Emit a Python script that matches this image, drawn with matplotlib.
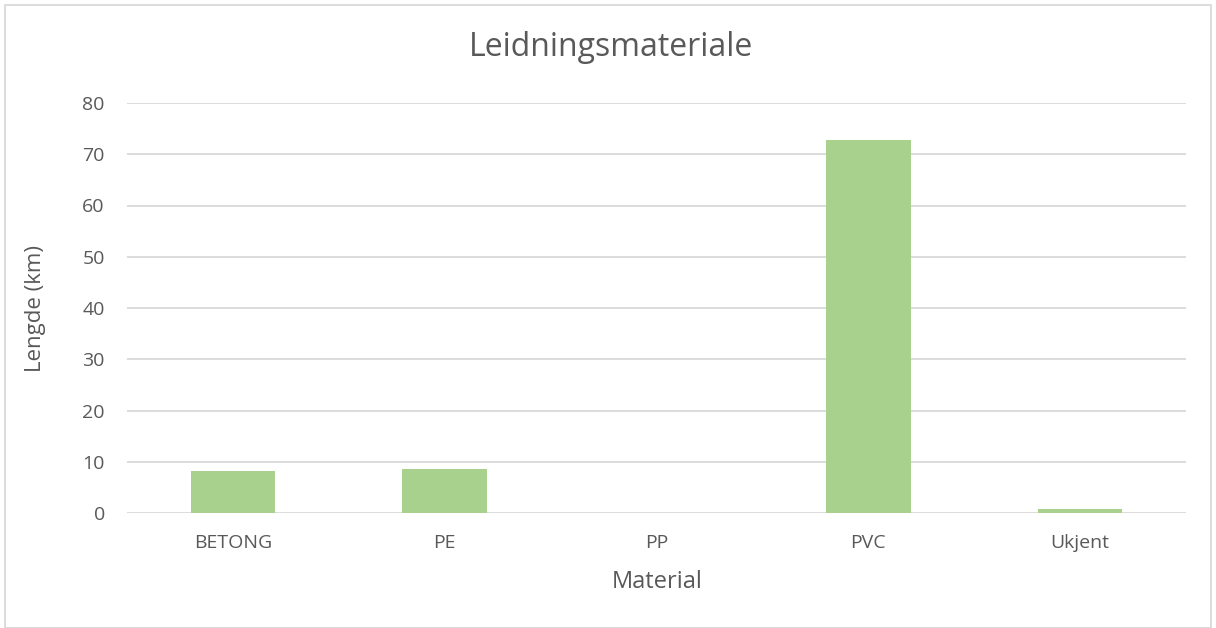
import matplotlib
matplotlib.use("Agg")
import matplotlib.pyplot as plt
from matplotlib.patches import Rectangle

categories = ["BETONG", "PE", "PP", "PVC", "Ukjent"]
values = [8.2, 8.5, 0.0, 72.8, 0.85]
yticks = [0, 10, 20, 30, 40, 50, 60, 70, 80]

plt.rcParams['font.family'] = ['Open Sans', 'DejaVu Sans']
text_color = "#595959"

fig = plt.figure(figsize=(12.16, 6.28), dpi=100)
ax = fig.add_axes([127/1216, 1 - 513/628, (1186-127)/1216, (513-103)/628])

x = list(range(len(categories)))
ax.bar(x, values, width=0.4, color="#A9D18E", zorder=3)
ax.set_xlim(-0.5, len(categories) - 0.5)
ax.set_ylim(0, 80)
ax.set_yticks(yticks)
ax.set_xticks(x)
ax.set_xticklabels(categories)
ax.grid(axis="y", color="#D9D9D9", linewidth=1.3, zorder=0)
for s in ["top", "right", "left", "bottom"]:
    ax.spines[s].set_visible(False)
ax.tick_params(axis="both", length=0, colors=text_color, labelsize=14)
ax.tick_params(axis="y", pad=16)
ax.tick_params(axis="x", pad=15)

fig.text(657/1216, 1 - 582/628, "Material", ha="center", va="center",
         color=text_color, fontsize=17)
fig.text(35/1216, 1 - 309/628, "Lengde (km)", ha="center", va="center",
         rotation=90, color=text_color, fontsize=16)
fig.text(611/1216, 1 - 48/628, "Leidningsmateriale", ha="center", va="center",
         color=text_color, fontsize=23)

fig.patches.append(Rectangle((5/1216, 0), 1206/1216, 1 - 5/628, transform=fig.transFigure,
                             fill=False, edgecolor="#D9D9D9", linewidth=1.3))

fig.savefig("out.png", dpi=100)
